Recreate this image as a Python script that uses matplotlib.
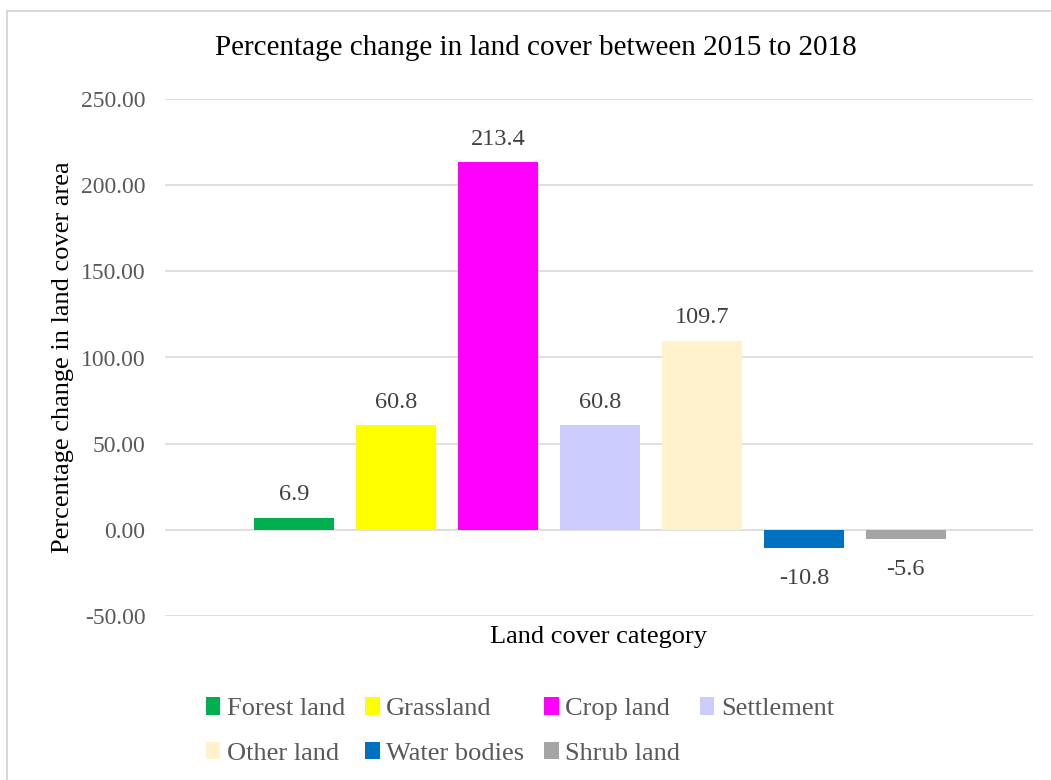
import matplotlib
matplotlib.use("Agg")
import matplotlib.pyplot as plt
from matplotlib.patches import Rectangle, Patch

plt.rcParams['font.family'] = ['Liberation Serif', 'DejaVu Serif']

categories = ["Forest land", "Grassland", "Crop land", "Settlement",
              "Other land", "Water bodies", "Shrub land"]
values = [6.9, 60.8, 213.4, 60.8, 109.7, -10.8, -5.6]
colors = ["#00B050", "#FFFF00", "#FF00FF", "#CCCCFF",
          "#FFF2CC", "#0070C0", "#A5A5A5"]
yticks = [-50, 0, 50, 100, 150, 200, 250]

W, H = 1051, 780
fig = plt.figure(figsize=(W / 100, H / 100), dpi=100)
ax = fig.add_axes([165 / W, 1 - 616 / H, (1033 - 165) / W, (616 - 99) / H])

# chart-area frame
fig.patches.append(Rectangle((7 / W, -0.05), 1.2, 1 - 11 / H + 0.05,
                             transform=fig.transFigure, fill=False,
                             edgecolor="#D9D9D9", linewidth=1.5, zorder=0))

xs = list(range(len(categories)))
bars = ax.bar(xs, values, width=0.785, color=colors, zorder=3)

for x, v in zip(xs, values):
    if v >= 0:
        ax.annotate(f"{v:.1f}", (x, v), xytext=(0, 9), textcoords="offset points",
                    ha="center", va="bottom", fontsize=17.5, color="#404040")
    else:
        ax.annotate(f"{v:.1f}", (x, v), xytext=(0, -14), textcoords="offset points",
                    ha="center", va="top", fontsize=17.5, color="#404040")

ax.set_xlim(-1.27, 7.25)
ax.set_ylim(-50, 250)
ax.set_yticks(yticks)
ax.set_yticklabels([f"{t:.2f}" for t in yticks], fontsize=17, color="#595959")
ax.set_xticks([])
ax.tick_params(axis="y", length=0, pad=14)
ax.yaxis.grid(True, color="#D9D9D9", linewidth=1.2, zorder=0)
ax.set_axisbelow(True)
for s in ax.spines.values():
    s.set_visible(False)

ax.set_ylabel("Percentage change in land cover area", fontsize=19, color="black", labelpad=5)
ax.set_xlabel("Land cover category", fontsize=19, color="black", labelpad=7)

fig.text(536 / W, 1 - 48 / H, "Percentage change in land cover between 2015 to 2018",
         ha="center", va="center", fontsize=21, color="black")

# legend laid out row by row in four columns
handles = [Patch(facecolor=c, edgecolor="none") for c in colors]
order = [0, 4, 1, 5, 2, 6, 3]
leg = fig.legend([handles[i] for i in order], [categories[i] for i in order],
                 ncol=4, loc="center", bbox_to_anchor=(520 / W, 1 - 731 / H),
                 frameon=False, fontsize=19, handlelength=0.55, handleheight=0.65,
                 handletextpad=0.25, columnspacing=0.75, labelspacing=0.8,
                 labelcolor="#595959")

fig.savefig("out.png", dpi=100, facecolor="white")
